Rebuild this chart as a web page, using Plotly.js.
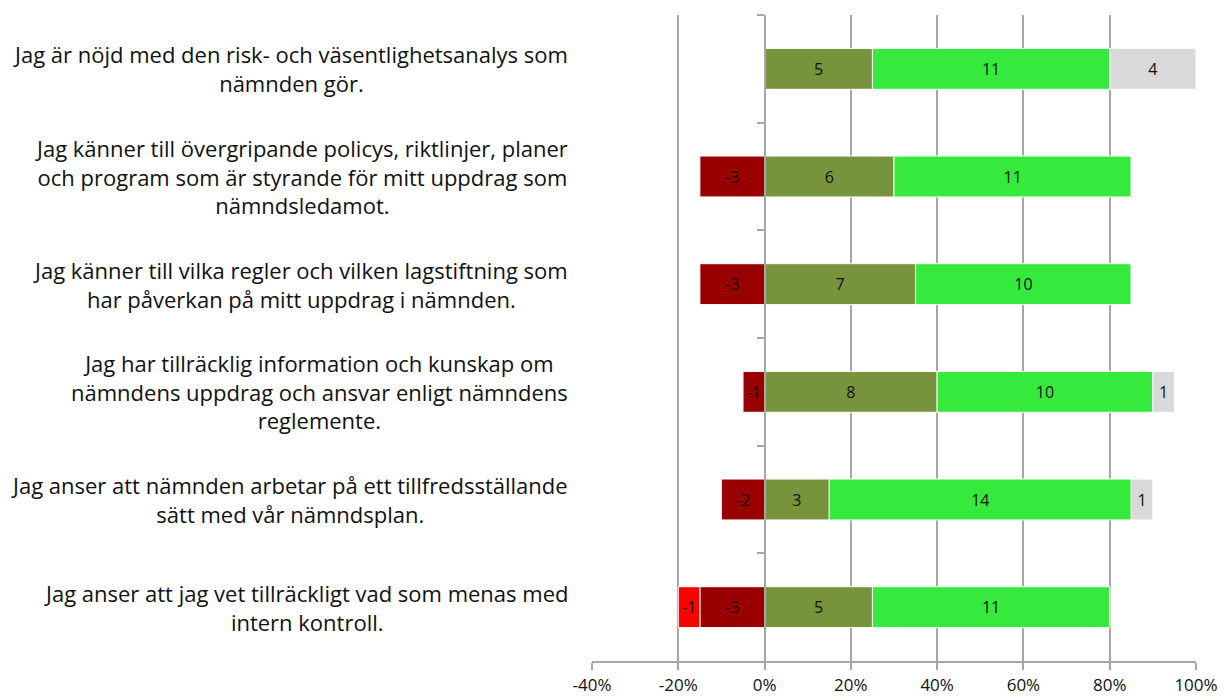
<!DOCTYPE html>
<html>
<head>
<meta charset="utf-8">
<script src="https://cdn.plot.ly/plotly-3.0.1.min.js"></script>
<style>
  html, body { margin: 0; padding: 0; background: #fff; }
  #myDiv { width: 1224px; height: 700px; }
</style>
</head>
<body>
<div id="myDiv"></div>
<script>
var categories = [
  'Jag är nöjd med den risk- och väsentlighetsanalys som<br>nämnden gör.',
  'Jag känner till övergripande policys, riktlinjer, planer<br>och program som är styrande för mitt uppdrag som<br>nämndsledamot.',
  'Jag känner till vilka regler och vilken lagstiftning som<br>har påverkan på mitt uppdrag i nämnden.',
  'Jag har tillräcklig information och kunskap om<br>nämndens uppdrag och ansvar enligt nämndens<br>reglemente.',
  'Jag anser att nämnden arbetar på ett tillfredsställande<br>sätt med vår nämndsplan.',
  'Jag anser att jag vet tillräckligt vad som menas med<br>intern kontroll.'
];

// number of answers per category (20 respondents)
var respondents = 20;
var disagree = [0, -3, -3, -1, -2, -3];
var stronglyDisagree = [0, 0, 0, 0, 0, -1];
var partlyAgree = [5, 6, 7, 8, 3, 5];
var agree = [11, 11, 10, 10, 14, 11];
var noAnswer = [4, 0, 0, 1, 1, 0];

var xTicks = [-40, -20, 0, 20, 40, 60, 80, 100];

function makeTrace(counts, color, name) {
  return {
    type: 'bar',
    orientation: 'h',
    name: name,
    y: categories,
    x: counts.map(function (c) { return c / respondents * 100; }),
    text: counts.map(function (c) { return c === 0 ? '' : String(c); }),
    textposition: 'inside',
    insidetextanchor: 'middle',
    textangle: 0,
    textfont: { family: 'Open Sans, sans-serif', size: 16, color: '#111' },
    marker: { color: color, line: { color: '#ffffff', width: 1 } },
    hoverinfo: 'skip'
  };
}

var data = [
  makeTrace(disagree, '#990000', 'Instämmer inte'),
  makeTrace(stronglyDisagree, '#ff0000', 'Instämmer inte alls'),
  makeTrace(partlyAgree, '#77933c', 'Instämmer delvis'),
  makeTrace(agree, '#35ea3c', 'Instämmer helt'),
  makeTrace(noAnswer, '#d9d9d9', 'Vet ej')
];

var annotations = categories.map(function (c) {
  return {
    xref: 'paper', yref: 'y',
    x: -0.036, y: c,
    xanchor: 'right', yanchor: 'middle',
    align: 'center',
    text: c,
    showarrow: false,
    font: { family: 'Open Sans, sans-serif', size: 22, color: '#111' }
  };
});

var layout = {
  barmode: 'relative',
  bargap: 0.62,
  showlegend: false,
  paper_bgcolor: '#ffffff',
  plot_bgcolor: '#ffffff',
  margin: { l: 592, r: 28, t: 15, b: 39 },
  font: { family: 'Open Sans, sans-serif', color: '#111' },
  xaxis: {
    range: [-40, 100],
    tickvals: xTicks,
    ticktext: xTicks.map(function (v) { return v + '%'; }),
    showgrid: true,
    gridcolor: '#a6a6a6',
    gridwidth: 2,
    zeroline: false,
    showline: true,
    linecolor: '#a6a6a6',
    linewidth: 2,
    ticks: 'outside',
    ticklen: 7,
    tickwidth: 2,
    tickcolor: '#a6a6a6',
    ticklabelstandoff: 1,
    tickfont: { size: 17, color: '#111' },
    fixedrange: true
  },
  yaxis: {
    autorange: 'reversed',
    anchor: 'free',
    position: 40 / 140,
    showline: true,
    linecolor: '#a6a6a6',
    linewidth: 2,
    ticks: 'outside',
    tickson: 'boundaries',
    ticklen: 7,
    tickwidth: 2,
    tickcolor: '#a6a6a6',
    showticklabels: false,
    showgrid: false,
    zeroline: false,
    fixedrange: true
  },
  annotations: annotations
};

Plotly.newPlot('myDiv', data, layout, { displayModeBar: false, staticPlot: true });
</script>
</body>
</html>
